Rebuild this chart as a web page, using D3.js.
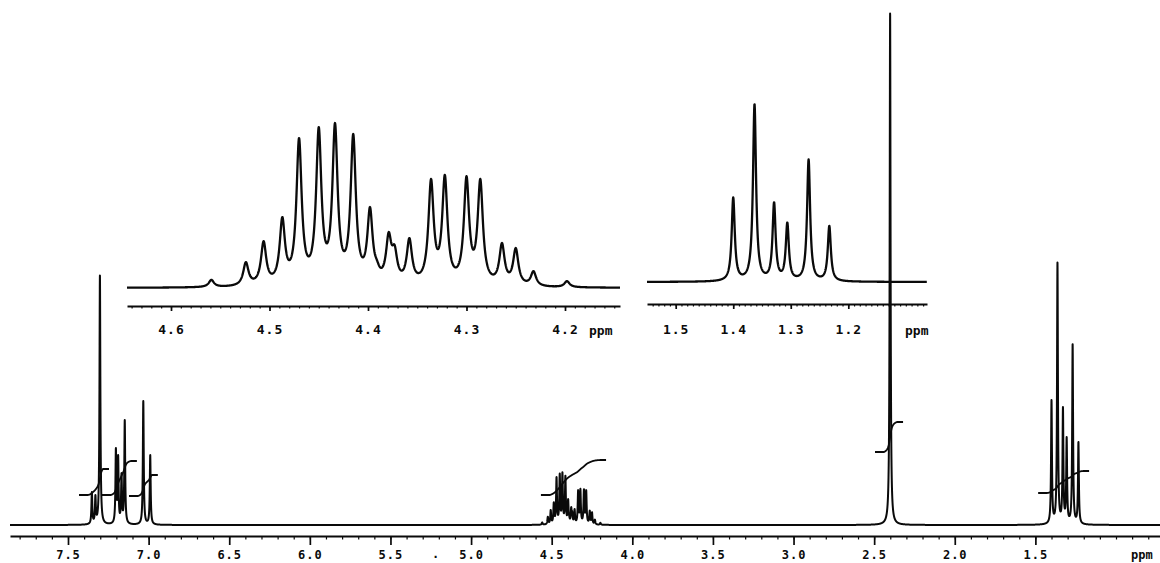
<!DOCTYPE html>
<html><head><meta charset="utf-8">
<script src="https://cdn.jsdelivr.net/npm/d3@7"></script>
<style>html,body{margin:0;padding:0;background:#fff;} svg{display:block;}</style>
</head><body>
<svg id="c" width="1160" height="563"></svg>
<script>
// ---------- data (chemical shifts in ppm, apparent heights in main-trace units) ----------
const aromaticPpm    = [7.352, 7.330, 7.302, 7.203, 7.189, 7.168, 7.148, 7.033, 6.990];
const aromaticHeight = [33, 30, 250, 77, 70, 52, 105, 124, 70];

const methinePpm    = [4.559, 4.524, 4.506, 4.487, 4.470, 4.450, 4.4335, 4.415, 4.398, 4.391, 4.379, 4.373, 4.358, 4.336, 4.322, 4.300, 4.286, 4.264, 4.250, 4.232, 4.198];
const methineHeight = [2.6, 8.3, 15, 22.7, 48, 51.5, 52.8, 49.3, 25.9, 9, 17.9, 13.8, 16, 34.9, 36.2, 35.8, 34.9, 14.4, 12.8, 5.4, 2.2];

const singletPpm    = [2.401];
const singletHeight = [512];

const methylPpm    = [1.400, 1.363, 1.329, 1.306, 1.269, 1.233];
const methylHeight = [125, 263, 118, 88, 181, 83];

// integral traces: start / end shift, start level and rise (main-trace units)
const integralFrom  = [7.376, 7.234, 7.066, 4.511, 2.439, 1.427];
const integralTo    = [7.283, 7.110, 6.980, 4.200, 2.358, 1.204];
const integralLevel = [30, 30, 29, 30, 73, 32];
const integralRise  = [26, 34, 21, 35, 30, 22];

const mainTicks   = [7.5, 7.0, 6.5, 6.0, 5.5, 5.0, 4.5, 4.0, 3.5, 3.0, 2.5, 2.0, 1.5];
const inset1Ticks = [4.6, 4.5, 4.4, 4.3, 4.2];
const inset2Ticks = [1.5, 1.4, 1.3, 1.2];

// ---------- lineshape ----------
const gamma = 0.0032;
const lor = d => 1 / (1 + (d / gamma) * (d / gamma));
const allPpm = [].concat(aromaticPpm, methinePpm, singletPpm, methylPpm);
const allTarget = [].concat(aromaticHeight, methineHeight, singletHeight, methylHeight);
let amp = allTarget.slice();
for (let it = 0; it < 80; it++) {
  const next = allTarget.map((t, i) => {
    let s = 0;
    for (let j = 0; j < allPpm.length; j++) if (j !== i) s += amp[j] * lor(allPpm[i] - allPpm[j]);
    return Math.max(0, t - s);
  });
  amp = amp.map((a, i) => 0.5 * a + 0.5 * next[i]);
}
function spec(p) {
  let s = 0;
  for (let j = 0; j < allPpm.length; j++) s += amp[j] * lor(p - allPpm[j]);
  return s;
}

// ---------- scales ----------
const svg = d3.select("#c");
const xMain = d3.scaleLinear().domain([7.5, 1.0]).range([68, 1116]);
const yMain = d3.scaleLinear().domain([0, 512]).range([525, 13]);
const xIn1 = d3.scaleLinear().domain([4.6, 4.2]).range([171, 565]);
const yIn1 = d3.scaleLinear().domain([0, 52.8]).range([288, 123]);
const xIn2 = d3.scaleLinear().domain([1.5, 1.2]).range([675.7, 848.3]);
const yIn2 = d3.scaleLinear().domain([0, 263]).range([282, 104]);

const ink = "#0a0a0a";
const fontFam = "'DejaVu Sans Mono', monospace";

function trace(xs, ys, x0, x1, step, width) {
  const pts = [];
  for (let x = x0; x <= x1; x += step) { const p = xs.invert(x); pts.push({p, v: spec(p)}); }
  svg.append("path")
    .attr("d", d3.line().x(d => xs(d.p)).y(d => ys(d.v))(pts))
    .attr("fill", "none").attr("stroke", ink).attr("stroke-width", width)
    .attr("stroke-linejoin", "round");
}

function axis(xs, x0, x1, y, majors, minorStep, majorLen, minorLen, pad, fsize, ppmX, ppmY) {
  const sc = xs.copy().domain([xs.invert(x0), xs.invert(x1)]).range([x0, x1]);
  const lo = Math.min(...sc.domain()), hi = Math.max(...sc.domain());
  const minors = d3.range(Math.ceil(lo / minorStep - 1e-6), Math.floor(hi / minorStep + 1e-6) + 1).map(k => +(k * minorStep).toFixed(3));
  const gMinor = svg.append("g").attr("transform", `translate(0,${y})`)
    .call(d3.axisBottom(sc).tickValues(minors).tickSize(minorLen).tickSizeOuter(0).tickFormat(""));
  gMinor.select(".domain").remove();
  gMinor.selectAll("line").attr("stroke", ink).attr("stroke-width", 1.2);
  const g = svg.append("g").attr("transform", `translate(0,${y})`)
    .call(d3.axisBottom(sc).tickValues(majors).tickSize(majorLen).tickSizeOuter(0).tickPadding(pad).tickFormat(d3.format(".1f")));
  g.select(".domain").attr("stroke", ink).attr("stroke-width", 2);
  g.selectAll(".tick line").attr("stroke", ink).attr("stroke-width", 1.7);
  g.selectAll("text").attr("font-family", fontFam).attr("font-weight", "bold")
    .attr("font-size", fsize).attr("fill", ink).style("letter-spacing", "1px");
  svg.append("text").attr("x", ppmX).attr("y", ppmY).text("ppm")
    .attr("font-family", fontFam).attr("font-weight", "bold").attr("font-size", fsize).attr("fill", ink);
}

// ---------- insets ----------
trace(xIn1, yIn1, 127, 620, 0.25, 2.3);
axis(xIn1, 127, 620, 306, inset1Ticks, 0.01, 5, 2.5, 14, 13, 589, 335);
trace(xIn2, yIn2, 647, 927, 0.2, 2.3);
axis(xIn2, 647, 927, 304, inset2Ticks, 0.01, 5, 2.5, 16, 13, 905, 335);

// ---------- main spectrum ----------
trace(xMain, yMain, 10, 1160, 0.05, 2);
axis(xMain, 10, 1160, 536, mainTicks, 0.1, 9, 3.5, 5, 12, 1131, 559);
svg.append("text").attr("x", 432).attr("y", 558).text(".")
  .attr("font-family", fontFam).attr("font-weight", "bold").attr("font-size", 12).attr("fill", ink);

// ---------- integral traces ----------
const wInt = 0.01;
integralFrom.forEach((pf, k) => {
  const pt = integralTo[k];
  const idx = allPpm.map((c, i) => i).filter(i => allPpm[i] <= pf + 0.005 && allPpm[i] >= pt - 0.005);
  const G = p => idx.reduce((s, i) => s + amp[i] * (Math.atan((pf - allPpm[i]) / wInt) - Math.atan((p - allPpm[i]) / wInt)), 0);
  const total = G(pt);
  const pts = [{p: xMain.invert(xMain(pf) - 9), v: integralLevel[k]}];
  for (let p = pf; p >= pt; p -= 0.0005) pts.push({p, v: integralLevel[k] + integralRise[k] * G(p) / total});
  pts.push({p: pt, v: integralLevel[k] + integralRise[k]});
  pts.push({p: xMain.invert(xMain(pt) + 6), v: integralLevel[k] + integralRise[k]});
  svg.append("path")
    .attr("d", d3.line().x(d => xMain(d.p)).y(d => yMain(d.v)).curve(d3.curveLinear)(pts))
    .attr("fill", "none").attr("stroke", ink).attr("stroke-width", 1.8);
});
</script>
</body></html>
